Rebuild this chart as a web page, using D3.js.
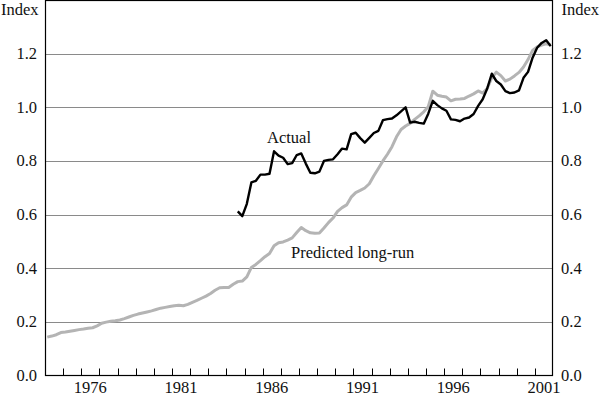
<!DOCTYPE html>
<html>
<head>
<meta charset="utf-8">
<script src="https://cdn.jsdelivr.net/npm/d3@7"></script>
<style>
  html, body { margin: 0; padding: 0; background: #fff; }
  svg { display: block; }
  text { font-family: "Liberation Serif", "Times New Roman", serif; font-size: 16.5px; fill: #111; }
</style>
</head>
<body>
<svg id="chart" width="600" height="397"></svg>
<script>
// ---- data (quarterly, 1974Q1 .. 2001Q4) ----
const firstYear = 1974;
const predicted = [
  0.143, 0.147, 0.152, 0.160, 0.162, 0.165, 0.168, 0.171, 0.173, 0.176,
  0.178, 0.185, 0.195, 0.199, 0.202, 0.204, 0.207, 0.212, 0.218, 0.224,
  0.229, 0.233, 0.237, 0.241, 0.246, 0.251, 0.254, 0.257, 0.260, 0.262,
  0.260, 0.265, 0.273, 0.280, 0.288, 0.296, 0.306, 0.318, 0.327, 0.328,
  0.328, 0.340, 0.350, 0.352, 0.368, 0.403, 0.414, 0.428, 0.443, 0.455,
  0.484, 0.495, 0.498, 0.505, 0.513, 0.533, 0.552, 0.540, 0.532, 0.530,
  0.531, 0.550, 0.570, 0.587, 0.612, 0.626, 0.636, 0.665, 0.682, 0.690,
  0.699, 0.715, 0.745, 0.772, 0.800, 0.825, 0.853, 0.890, 0.917, 0.930,
  0.940, 0.955, 0.968, 0.983, 1.002, 1.060, 1.045, 1.041, 1.038, 1.024,
  1.030, 1.031, 1.033, 1.042, 1.050, 1.061, 1.053, 1.070, 1.110, 1.131,
  1.118, 1.098, 1.105, 1.117, 1.130, 1.150, 1.178, 1.212, 1.225, 1.232,
  1.237, 1.232
];
// Actual starts in 1984Q3 (quarter index 42)
const actualStartIndex = 42;
const actual = [
  0.612, 0.594, 0.640, 0.720, 0.726, 0.749, 0.749, 0.752, 0.836, 0.820,
  0.812, 0.788, 0.792, 0.822, 0.828, 0.790, 0.756, 0.754, 0.760, 0.800,
  0.804, 0.806, 0.825, 0.846, 0.843, 0.900, 0.905, 0.885, 0.868, 0.886,
  0.904, 0.912, 0.952, 0.956, 0.958, 0.970, 0.985, 1.000, 0.943, 0.946,
  0.942, 0.939, 0.976, 1.024, 1.008, 0.996, 0.987, 0.955, 0.953, 0.948,
  0.958, 0.962, 0.975, 1.005, 1.030, 1.070, 1.125, 1.098, 1.085, 1.060,
  1.053, 1.055, 1.063, 1.110, 1.132, 1.185, 1.222, 1.240, 1.250, 1.228
];
const yearLabels = [1976, 1981, 1986, 1991, 1996, 2001];
const yTicks = [0.0, 0.2, 0.4, 0.6, 0.8, 1.0, 1.2];
const xDomain = [1974, 2002];
const yDomain = [0, 1.4];

// quarter index -> time (mid-quarter)
const qTime = i => firstYear + Math.floor(i / 4) + ((i % 4) + 0.5) / 4;

const predictedPts = predicted.map((v, i) => ({ t: qTime(i), v }));
const actualPts = actual.map((v, i) => ({ t: qTime(i + actualStartIndex), v }));

// ---- layout ----
const L = 45, R = 553, T = 0, B = 375.5;
const svg = d3.select("#chart");
const x = d3.scaleLinear().domain(xDomain).range([L, R]);
const y = d3.scaleLinear().domain(yDomain).range([B, T]);

// gridlines
svg.append("g").selectAll("line")
  .data(yTicks.filter(d => d > 0))
  .join("line")
  .attr("x1", L).attr("x2", R)
  .attr("y1", d => Math.round(y(d)) + 0.5).attr("y2", d => Math.round(y(d)) + 0.5)
  .attr("stroke", "#8a8a8a").attr("stroke-width", 1.2);

// x axis ticks (year boundaries, pointing up inside)
const yearTicks = d3.range(xDomain[0] + 1, xDomain[1]);
svg.append("g").selectAll("line")
  .data(yearTicks)
  .join("line")
  .attr("x1", d => Math.round(x(d)) + 0.5).attr("x2", d => Math.round(x(d)) + 0.5)
  .attr("y1", B).attr("y2", B - 7)
  .attr("stroke", "#000").attr("stroke-width", 1);

// frame
svg.append("rect")
  .attr("x", L + 0.5).attr("y", T + 0.5)
  .attr("width", R - L - 1).attr("height", B - T - 0.5)
  .attr("fill", "none").attr("stroke", "#000").attr("stroke-width", 1.2);

// x labels centred in the year band
svg.append("g").selectAll("text")
  .data(yearLabels)
  .join("text")
  .attr("x", d => x(d + 0.5))
  .attr("y", 393.4)
  .attr("text-anchor", "middle")
  .text(d => d);

// y labels left and right
const fmt = d3.format(".1f");
svg.append("g").selectAll("text")
  .data(yTicks)
  .join("text")
  .attr("x", 37).attr("y", d => y(d) + 5.5)
  .attr("text-anchor", "end")
  .text(d => fmt(d));
svg.append("g").selectAll("text")
  .data(yTicks)
  .join("text")
  .attr("x", 561).attr("y", d => y(d) + 5.5)
  .attr("text-anchor", "start")
  .text(d => fmt(d));

svg.append("text").attr("x", 1).attr("y", 15).text("Index");
svg.append("text").attr("x", 599).attr("y", 15).attr("text-anchor", "end").text("Index");

// lines
const line = d3.line().x(d => x(d.t)).y(d => y(d.v));
svg.append("path").datum(predictedPts)
  .attr("d", line).attr("fill", "none")
  .attr("stroke", "#b4b4b4").attr("stroke-width", 3).attr("stroke-linejoin", "round");
svg.append("path").datum(actualPts)
  .attr("d", line).attr("fill", "none")
  .attr("stroke", "#000").attr("stroke-width", 2.4).attr("stroke-linejoin", "round");

// series labels
svg.append("text").attr("x", 289).attr("y", 143).attr("text-anchor", "middle").text("Actual");
svg.append("text").attr("x", 291).attr("y", 258).text("Predicted long-run");
</script>
</body>
</html>
